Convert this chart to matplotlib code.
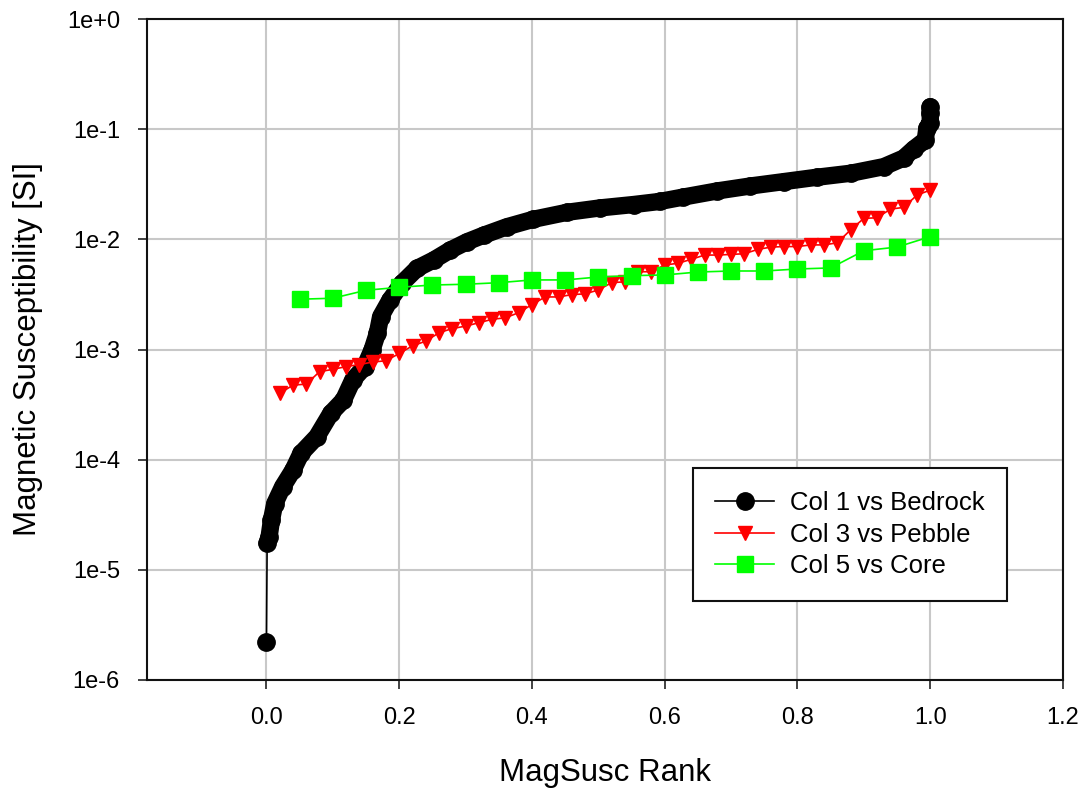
import matplotlib
matplotlib.use("Agg")
import matplotlib.pyplot as plt
from matplotlib.ticker import FixedLocator, NullLocator
import numpy as np

plt.rcParams['font.family'] = ['Liberation Sans', 'DejaVu Sans']

# ---- data ----
bedrock_rank = [0.0, 0.001, 0.004, 0.0075, 0.0125, 0.0245, 0.04, 0.052, 0.076,
                0.097, 0.116, 0.13, 0.148, 0.159, 0.167, 0.172, 0.186, 0.204,
                0.227, 0.252, 0.277, 0.302, 0.327, 0.362, 0.402, 0.453, 0.503,
                0.553, 0.593, 0.628, 0.679, 0.729, 0.779, 0.829, 0.88, 0.93,
                0.96, 0.975, 0.9925, 0.995, 1.0, 1.0, 1.0]
bedrock_val = [2.2e-6, 1.75e-5, 2.0e-5, 2.83e-5, 4.0e-5, 5.7e-5, 8.05e-5, 1.14e-4, 1.62e-4,
               2.64e-4, 3.48e-4, 5.29e-4, 6.98e-4, 9.9e-4, 1.4e-3, 1.99e-3, 2.81e-3, 3.99e-3,
               5.46e-3, 6.5e-3, 8.0e-3, 9.5e-3, 1.09e-2, 1.30e-2, 1.52e-2, 1.76e-2, 1.93e-2,
               2.07e-2, 2.21e-2, 2.42e-2, 2.75e-2, 3.05e-2, 3.34e-2, 3.66e-2, 3.98e-2, 4.57e-2,
               5.47e-2, 6.6e-2, 7.97e-2, 1.025e-1, 1.14e-1, 1.39e-1, 1.6e-1]

pebble_rank = [0.02, 0.04, 0.06, 0.08, 0.10, 0.12, 0.14, 0.16, 0.18, 0.20,
               0.22, 0.24, 0.26, 0.28, 0.30, 0.32, 0.34, 0.36, 0.38, 0.40,
               0.42, 0.44, 0.46, 0.48, 0.50, 0.52, 0.54, 0.56, 0.58, 0.60,
               0.62, 0.64, 0.66, 0.68, 0.70, 0.72, 0.74, 0.76, 0.78, 0.80,
               0.82, 0.84, 0.86, 0.88, 0.90, 0.92, 0.94, 0.96, 0.98, 1.00]
pebble_val = [4.0e-4, 4.75e-4, 4.85e-4, 6.3e-4, 6.6e-4, 7.0e-4, 7.3e-4, 7.7e-4, 7.9e-4, 9.2e-4,
              1.08e-3, 1.19e-3, 1.42e-3, 1.55e-3, 1.63e-3, 1.75e-3, 1.88e-3, 1.94e-3, 2.16e-3, 2.56e-3,
              3.0e-3, 3.0e-3, 3.15e-3, 3.2e-3, 3.47e-3, 4.04e-3, 4.12e-3, 5.08e-3, 5.08e-3, 5.85e-3,
              6.06e-3, 6.59e-3, 7.2e-3, 7.2e-3, 7.3e-3, 7.4e-3, 8.1e-3, 8.5e-3, 8.6e-3, 8.6e-3,
              8.9e-3, 8.9e-3, 9.3e-3, 1.22e-2, 1.55e-2, 1.57e-2, 1.88e-2, 1.95e-2, 2.52e-2, 2.80e-2]

core_rank = [0.05, 0.10, 0.15, 0.20, 0.25, 0.30, 0.35, 0.40, 0.45, 0.50,
             0.55, 0.60, 0.65, 0.70, 0.75, 0.80, 0.85, 0.90, 0.95, 1.00]
core_val = [2.86e-3, 2.92e-3, 3.45e-3, 3.67e-3, 3.85e-3, 3.91e-3, 4.04e-3, 4.28e-3, 4.28e-3, 4.55e-3,
            4.68e-3, 4.75e-3, 5.05e-3, 5.16e-3, 5.16e-3, 5.38e-3, 5.50e-3, 7.88e-3, 8.51e-3, 1.057e-2]

x_ticks = [0.0, 0.2, 0.4, 0.6, 0.8, 1.0, 1.2]
x_tick_labels = ["0.0", "0.2", "0.4", "0.6", "0.8", "1.0", "1.2"]
y_ticks = [1e-6, 1e-5, 1e-4, 1e-3, 1e-2, 1e-1, 1e0]
y_tick_labels = ["1e-6", "1e-5", "1e-4", "1e-3", "1e-2", "1e-1", "1e+0"]

series_labels = ["Col 1 vs Bedrock", "Col 3 vs Pebble", "Col 5 vs Core"]

# ---- figure ----
fig = plt.figure(figsize=(10.87, 7.89), dpi=100)
ax = fig.add_axes([147/1087, 1 - 680/789, (1063 - 147)/1087, (680 - 19)/789])

ax.set_yscale('log')
ax.set_xlim(-0.18, 1.2)
ax.set_ylim(1e-6, 1e0)

# grid
ax.grid(True, which='major', color='#c8c8c8', linewidth=1.5, zorder=0)
ax.set_axisbelow(True)

# dense black band (markers are packed so tightly they form a continuous band)
ax.plot(bedrock_rank[1:], bedrock_val[1:], color='black', lw=12.5,
        solid_capstyle='round', solid_joinstyle='round', zorder=3)
ax.plot(bedrock_rank, bedrock_val, color='black', lw=1.2, marker='o',
        markersize=12.5, markerfacecolor='black', markeredgecolor='black',
        label=series_labels[0], zorder=3)

ax.plot(pebble_rank, pebble_val, color='#ff0000', lw=1.2, marker='v',
        markersize=10.5, markerfacecolor='#ff0000', markeredgecolor='#ff0000',
        label=series_labels[1], zorder=4)

ax.plot(core_rank, core_val, color='#00ff00', lw=1.2, marker='s',
        markersize=11, markerfacecolor='#00ff00', markeredgecolor='#00ff00',
        label=series_labels[2], zorder=5)

# ticks
ax.xaxis.set_major_locator(FixedLocator(x_ticks))
ax.set_xticklabels(x_tick_labels)
ax.yaxis.set_major_locator(FixedLocator(y_ticks))
ax.yaxis.set_minor_locator(NullLocator())
ax.set_yticklabels(y_tick_labels)
ax.tick_params(axis='both', which='major', direction='out', length=6.5, width=1.2,
               labelsize=17, color='#222222', labelcolor='black')
ax.tick_params(axis='y', pad=13)
ax.tick_params(axis='x', pad=13)

for s in ax.spines.values():
    s.set_linewidth(1.5)
    s.set_color('#111111')

ax.set_xlabel("MagSusc Rank", fontsize=22.5, labelpad=21)
ax.set_ylabel("Magnetic Susceptibility [SI]", fontsize=22.5, labelpad=17)

leg = ax.legend(loc='lower right', bbox_to_anchor=(1007/1087, 1 - 601/789),
                bbox_transform=fig.transFigure, fontsize=18.5, frameon=True,
                fancybox=False, edgecolor='#111111', framealpha=1,
                handlelength=2.3, borderpad=0.88, labelspacing=0.3,
                handletextpad=0.6, borderaxespad=0)
leg.get_frame().set_linewidth(1.5)

fig.savefig("out.png", dpi=100)
